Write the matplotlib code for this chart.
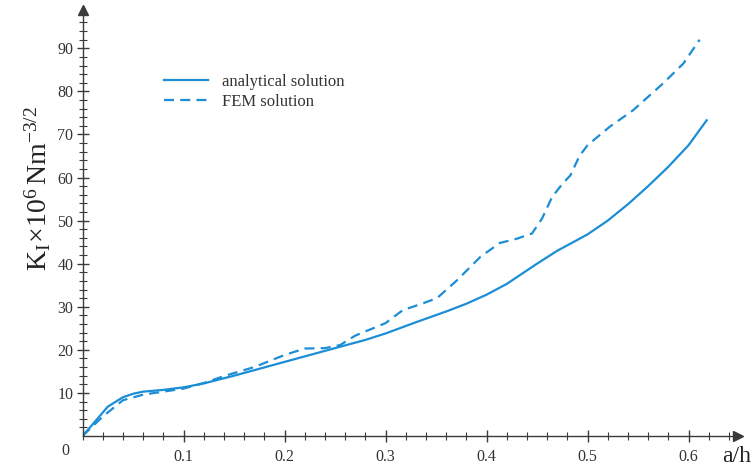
import numpy as np
import matplotlib.pyplot as plt
from matplotlib.ticker import MultipleLocator, FixedLocator

# data
a_h_analytical = [0, 0.01, 0.025, 0.04, 0.05, 0.06, 0.08, 0.1, 0.12, 0.15, 0.2,
                  0.25, 0.28, 0.3, 0.33, 0.36, 0.38, 0.4, 0.42, 0.45, 0.47, 0.5,
                  0.52, 0.54, 0.56, 0.58, 0.6, 0.618]
k_analytical = [0, 2.7, 6.8, 9.0, 9.8, 10.3, 10.7, 11.3, 12.2, 14.0, 17.2,
                20.4, 22.3, 23.8, 26.4, 28.9, 30.7, 32.8, 35.3, 40.0, 43.0, 46.8,
                50.0, 53.8, 58.0, 62.5, 67.5, 73.3]

a_h_fem = [0, 0.02, 0.04, 0.06, 0.08, 0.1, 0.12, 0.14, 0.17, 0.2, 0.22, 0.24,
           0.255, 0.27, 0.3, 0.317, 0.337, 0.351, 0.371, 0.394, 0.413, 0.43,
           0.445, 0.455, 0.465, 0.475, 0.483, 0.492, 0.5, 0.522, 0.545, 0.575,
           0.595, 0.611]
k_fem = [0, 4.5, 8.3, 9.6, 10.3, 11.0, 12.3, 13.9, 16.0, 18.8, 20.3, 20.4,
         21.1, 23.3, 26.2, 29.2, 30.8, 32.0, 36.2, 41.6, 44.8, 45.8,
         47.0, 50.5, 55.5, 58.5, 60.5, 65.0, 67.5, 71.8, 75.6, 81.9,
         86.5, 92.0]

blue = '#1b8ed6'
axcol = '#3a3a3a'
plt.rcParams['font.family'] = 'Liberation Serif'
plt.rcParams['mathtext.fontset'] = 'custom'
plt.rcParams['mathtext.rm'] = 'Liberation Serif'
plt.rcParams['mathtext.it'] = 'Liberation Serif'

fig = plt.figure(figsize=(7.55, 4.68), dpi=100)
ax = fig.add_axes([82.5 / 755, 32 / 468, (738 - 82.5) / 755, (436 - 10) / 468])

ax.plot(a_h_analytical, k_analytical, color=blue, lw=1.6, label='analytical solution')
fem_line, = ax.plot(a_h_fem, k_fem, color=blue, lw=1.6, label='FEM solution')
fem_line.set_dashes([4.5, 2.8])

ax.set_xlim(0, 0.649)
ax.set_ylim(0, 98.9)

# spines with arrows
for s in ['top', 'right']:
    ax.spines[s].set_visible(False)
for s in ['left', 'bottom']:
    ax.spines[s].set_color(axcol)
    ax.spines[s].set_linewidth(1.0)
ax.plot(1, 0, '>', color=axcol, ms=7, transform=ax.transAxes, clip_on=False)
ax.plot(0, 1, '^', color=axcol, ms=7, transform=ax.transAxes, clip_on=False)

ax.xaxis.set_major_locator(FixedLocator([0.1, 0.2, 0.3, 0.4, 0.5, 0.6]))
ax.xaxis.set_minor_locator(MultipleLocator(0.02))
ax.yaxis.set_major_locator(FixedLocator([10, 20, 30, 40, 50, 60, 70, 80, 90]))
ax.yaxis.set_minor_locator(FixedLocator(np.arange(2, 97, 2)))
ax.tick_params(which='major', direction='inout', length=9, width=1, color=axcol,
               labelsize=11.5, labelcolor='#333333')
ax.tick_params(which='minor', direction='inout', length=6, width=0.8, color=axcol)
ax.tick_params(axis='x', pad=5)
ax.tick_params(axis='y', pad=2)

ax.text(-0.017, -3.5, '0', ha='center', va='center', fontsize=11.5, color='#333333')
fig.text(722 / 755, 1 - 457 / 468, 'a/h', ha='left', va='center',
         fontsize=17, color='#222222')
fig.text(38 / 755, 1 - 188 / 468,
         r'$\mathregular{K_I\!\times\!10^6\,Nm^{-3/2}}$', rotation=90,
         ha='center', va='center', fontsize=20, color='#222222')

ax.legend(loc='upper left', bbox_to_anchor=(66 / 655.5, 1 - 49 / 426), frameon=False,
          fontsize=12, handlelength=2.65, handletextpad=0.85, labelspacing=0.25,
          labelcolor='#333333')

plt.savefig('out.png', dpi=100)
